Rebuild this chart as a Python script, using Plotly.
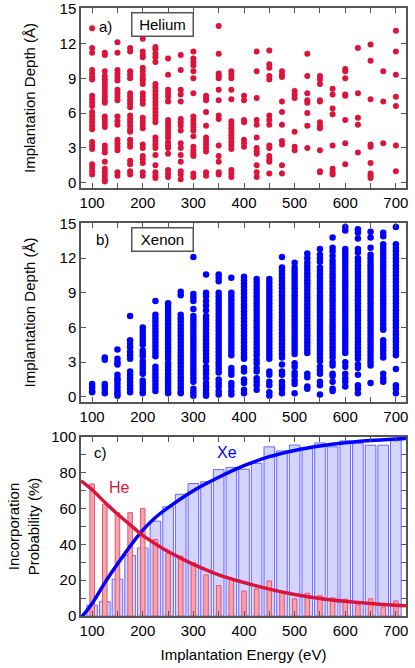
import plotly.graph_objects as go
from plotly.subplots import make_subplots

energies = [100, 125, 150, 175, 200, 225, 250, 275, 300, 325, 350, 375, 400,
            425, 450, 475, 500, 525, 550, 575, 600, 625, 650, 675, 700]

# panel a: helium implantation depths (A), one list per energy
he_depths = [
    [13.3, 11.6, 11.2, 9.7, 9.4, 9.1, 8.9, 7.5, 7.2, 6.9, 6.6, 6.1, 5.8, 5.5, 5.2, 4.9, 4.6, 3.5, 3.2, 2.9, 1.6, 1.3, 1.0, 0.7],
    [11.2, 11.0, 9.6, 9.2, 8.9, 8.6, 8.3, 8.0, 7.7, 7.4, 7.1, 6.9, 5.7, 5.4, 5.1, 4.8, 3.2, 2.9, 2.6, 1.8, 1.2, 0.9, 0.6, 0.3, 0.1],
    [12.1, 11.2, 9.7, 9.4, 9.1, 8.8, 8.0, 7.7, 7.4, 7.1, 5.7, 5.3, 5.0, 3.7, 3.4, 3.1, 2.8, 0.9, 0.6],
    [11.6, 11.3, 9.6, 9.3, 9.0, 7.7, 7.4, 7.1, 6.8, 6.5, 5.8, 5.5, 5.2, 4.9, 4.6, 4.4, 3.7, 3.4, 3.1, 1.9, 1.6, 1.0, 0.7],
    [12.4, 11.3, 11.0, 10.8, 9.9, 9.6, 9.3, 9.0, 8.8, 8.5, 7.7, 7.4, 7.1, 6.8, 5.6, 5.3, 5.0, 4.7, 3.3, 3.0, 2.3, 2.0, 1.7, 0.9, 0.6],
    [11.7, 11.5, 11.1, 10.8, 10.4, 8.5, 8.2, 7.9, 7.6, 7.3, 7.0, 6.7, 6.4, 6.1, 5.8, 5.5, 5.2, 3.9, 3.6, 3.3, 3.0, 2.4, 1.5, 0.9, 0.6, 0.4],
    [10.7, 9.3, 8.0, 7.7, 7.4, 7.0, 5.4, 5.1, 4.8, 4.5, 4.2, 3.9, 3.5, 3.2, 3.0, 2.5, 1.1, 0.8, 0.5],
    [11.0, 9.7, 8.0, 7.6, 7.0, 5.5, 5.2, 4.9, 4.5, 3.4, 3.0, 2.4, 1.8, 1.0, 0.7, 0.3],
    [11.3, 10.7, 10.4, 10.1, 9.6, 9.0, 7.7, 5.7, 5.4, 5.1, 4.8, 4.5, 4.0, 3.1, 2.8, 2.5, 2.3, 0.8, 0.5],
    [7.5, 7.3, 7.1, 6.1, 4.9, 3.9, 3.6, 3.3, 3.0, 2.7, 0.9, 0.6],
    [13.5, 11.1, 9.4, 9.2, 9.0, 8.0, 7.1, 5.8, 5.5, 3.2, 2.3, 1.8, 0.9, 0.7],
    [9.6, 9.3, 9.0, 8.0, 7.2, 5.3, 5.0, 4.7, 4.4, 4.1, 3.8, 3.5, 3.2, 2.9, 1.1, 0.8, 0.5],
    [7.5, 7.1, 5.4, 5.2, 3.7, 3.4, 3.1],
    [11.3, 9.6, 7.3, 5.4, 5.0, 3.9, 3.0, 2.7, 2.5, 1.5, 0.9, 0.5],
    [11.4, 10.2, 9.9, 9.2, 8.9, 5.8, 5.4, 5.0, 3.2, 3.0, 2.3, 2.0, 1.8, 0.8],
    [9.6, 9.3, 9.1, 7.0, 6.1, 5.0, 3.6, 3.3, 1.5, 0.8],
    [7.9, 7.6, 7.3, 4.4, 3.1, 2.8],
    [11.1, 9.2, 7.7, 7.1, 6.9, 6.0, 4.9, 3.0],
    [9.2, 8.9, 8.5, 7.1, 7.0, 5.2, 4.9, 4.7, 2.8, 1.0, 0.9],
    [8.1, 7.6, 6.4, 5.9, 3.2, 1.2, 0.9, 0.7],
    [9.8, 9.6, 9.0, 7.6, 7.5, 5.4, 3.4, 1.6],
    [11.6, 7.7, 5.6, 5.0, 2.6],
    [11.9, 10.5, 7.2, 3.3, 3.1, 1.7, 0.8, 0.6, 0.4],
    [9.6, 7.0, 3.4],
    [13.1, 11.3, 9.3, 7.4, 6.6, 3.2, 1.0],
]

# panel b: xenon implantation depths (A), one list per energy
xe_depths = [
    [1.1, 0.8, 0.5, 0.4],
    [3.4, 3.2, 1.1, 0.9, 0.6, 0.3],
    [4.1, 3.3, 3.0, 2.8, 1.9, 1.6, 1.4, 1.1, 0.8, 0.5, 0.3, 0.1],
    [7.0, 4.9, 4.6, 4.3, 3.9, 3.6, 3.3, 2.2, 1.9, 1.6, 1.3, 1.0, 0.7, 0.4],
    [6.0, 5.7, 5.4, 5.1, 4.8, 4.5, 4.0, 3.7, 3.5, 3.1, 2.8, 2.5, 2.2, 2.0, 1.4, 1.1, 0.8, 0.5, 0.3],
    [8.3, 7.1, 6.8, 6.5, 6.2, 5.9, 5.6, 5.3, 5.0, 4.7, 4.4, 4.1, 3.8, 3.5, 2.6, 2.3, 2.0, 1.7, 1.4, 1.1, 0.8, 0.5],
    [8.1, 7.8, 7.5, 7.2, 6.9, 6.6, 6.3, 6.0, 5.7, 5.4, 5.1, 4.8, 4.5, 4.2, 3.9, 3.6, 3.3, 2.9, 2.6, 2.3, 2.0,
     1.7, 1.4, 1.1, 0.8, 0.5, 0.3],
    [9.1, 8.8, 7.1, 6.8, 6.5, 6.2, 5.9, 5.6, 5.3, 5.0, 4.7, 4.4, 4.1, 3.8, 3.5, 3.2, 2.9, 2.6, 2.3, 2.0, 1.7,
     1.4, 1.1, 0.8, 0.5, 0.3],
    [12.1, 8.9, 8.6, 8.3, 7.6, 7.0, 6.7, 6.4, 6.1, 5.8, 5.5, 5.2, 4.9, 4.6, 4.3, 4.0, 3.7, 3.4, 3.1, 2.8, 2.5,
     2.2, 1.9, 1.6, 1.3, 0.7, 0.4, 0.1],
    [10.6, 9.0, 8.7, 8.3, 7.9, 7.5, 7.0, 6.7, 6.4, 6.1, 5.8, 5.5, 5.2, 4.9, 4.6, 4.3, 4.0, 3.7, 3.4, 3.1, 2.6,
     2.3, 2.0, 1.6, 1.2, 0.9, 0.6, 0.3, 0.1],
    [10.6, 10.3, 10.0, 9.0, 8.7, 8.4, 8.1, 7.8, 7.5, 7.2, 6.9, 6.6, 6.3, 6.0, 5.7, 5.4, 5.1, 4.8, 4.5, 4.2, 3.9,
     3.6, 3.3, 3.0, 2.7, 2.4, 2.1, 1.5, 1.2, 0.9, 0.5, 0.2],
    [10.3, 9.0, 8.7, 8.4, 8.1, 7.8, 7.5, 7.2, 6.9, 6.6, 6.3, 6.0, 5.7, 5.4, 5.1, 4.8, 4.5, 4.2, 3.9, 3.6, 2.5,
     2.2, 1.9, 1.2, 0.9, 0.5, 0.2],
    [10.4, 10.1, 9.8, 9.5, 9.2, 8.9, 8.6, 8.3, 8.0, 7.7, 7.4, 7.1, 6.8, 6.5, 6.2, 5.9, 5.6, 5.3, 5.0, 4.7, 4.4,
     4.1, 3.8, 3.5, 3.3, 2.5, 2.2, 1.5, 1.2, 0.6, 0.3],
    [10.2, 9.9, 9.6, 9.3, 9.0, 8.7, 8.4, 8.1, 7.8, 7.5, 7.2, 6.9, 6.6, 6.3, 6.0, 5.7, 5.4, 5.1, 4.8, 4.5, 4.2,
     3.9, 3.6, 3.2, 2.9, 2.5, 2.2, 1.6, 1.3, 1.0, 0.6],
    [10.2, 9.9, 9.6, 9.3, 9.0, 8.7, 8.4, 8.1, 7.8, 7.5, 7.2, 6.9, 6.6, 6.3, 6.0, 5.7, 5.4, 5.1, 4.8, 4.5, 4.2,
     3.9, 3.6, 3.3, 2.2, 1.9, 1.3, 1.0, 0.4, 0.1],
    [12.1, 11.2, 10.9, 10.6, 10.3, 10.0, 9.7, 9.4, 9.1, 8.8, 8.5, 8.2, 7.9, 7.6, 7.3, 7.0, 6.7, 6.4, 6.1, 5.8,
     5.5, 5.2, 4.9, 4.6, 4.3, 4.0, 3.7, 3.4, 2.8, 2.2, 1.9, 1.3, 1.0, 0.7, 0.3],
    [11.6, 11.2, 10.9, 10.6, 10.3, 10.0, 9.7, 9.4, 9.1, 8.8, 8.5, 8.2, 7.9, 7.6, 7.3, 7.0, 6.7, 6.4, 6.1, 5.8,
     5.5, 5.2, 4.9, 4.6, 4.3, 4.0, 3.7, 2.9, 2.6, 2.1, 1.8, 1.4, 1.1, 0.3],
    [12.4, 12.0, 11.6, 11.3, 11.0, 10.7, 10.4, 10.1, 9.8, 9.5, 9.2, 8.9, 8.6, 8.3, 8.0, 7.7, 7.4, 7.1, 6.8, 6.5,
     6.2, 5.9, 5.6, 5.3, 5.0, 4.7, 4.4, 4.1, 3.8, 2.0, 1.7, 0.9, 0.7],
    [12.8, 12.3, 12.0, 11.7, 11.2, 10.9, 10.6, 10.3, 10.0, 9.7, 9.4, 9.1, 8.8, 8.5, 8.2, 7.9, 7.6, 7.3, 7.0, 6.7,
     6.4, 6.1, 5.8, 5.5, 5.2, 4.9, 4.6, 4.3, 4.0, 3.7, 3.4, 3.1, 2.6, 2.3, 2.0, 1.3, 1.0, 0.2],
    [13.8, 12.9, 12.6, 12.2, 11.8, 11.5, 11.2, 10.9, 10.6, 10.3, 10.0, 9.7, 9.4, 9.1, 8.8, 8.5, 8.2, 7.9, 7.6,
     7.3, 7.0, 6.7, 6.4, 6.1, 5.8, 5.5, 5.2, 4.9, 4.6, 4.3, 4.0, 3.7, 3.4, 3.0, 2.7, 2.0, 1.8, 1.3, 0.7, 0.5],
    [14.7, 14.4, 12.8, 12.5, 12.2, 11.9, 11.6, 11.3, 11.0, 10.7, 10.4, 10.1, 9.8, 9.5, 9.2, 8.9, 8.6, 8.3, 8.0,
     7.7, 7.4, 7.1, 6.8, 6.5, 6.2, 5.9, 5.6, 5.3, 5.0, 4.7, 4.4, 4.1, 3.8, 3.0, 2.6, 2.0, 1.6, 1.3, 0.9],
    [14.5, 14.2, 13.7, 12.8, 12.5, 12.0, 11.7, 11.4, 11.1, 10.8, 10.5, 10.2, 9.9, 9.6, 9.3, 9.0, 8.7, 8.4, 8.1,
     7.8, 7.5, 7.2, 6.9, 6.6, 6.3, 6.0, 5.7, 5.4, 5.1, 4.8, 4.5, 4.2, 3.9, 3.6, 3.3, 2.8, 2.5, 1.9, 1.0, 0.7, 0.3],
    [14.3, 13.8, 12.9, 12.3, 12.0, 11.7, 11.4, 11.1, 10.8, 10.5, 10.2, 9.9, 9.6, 9.3, 9.0, 8.7, 8.4, 8.1, 7.8,
     7.5, 7.2, 6.9, 6.6, 6.3, 6.0, 5.7, 5.4, 5.1, 4.8, 4.5, 4.2, 3.9, 3.6, 3.3, 3.0, 2.7, 1.2],
    [14.2, 13.9, 13.2, 12.9, 12.6, 12.3, 12.0, 11.7, 11.4, 11.1, 10.8, 10.5, 10.2, 9.9, 9.6, 9.3, 9.0, 8.7, 8.4,
     8.1, 7.8, 7.5, 7.2, 6.9, 6.6, 6.3, 6.0, 5.8, 4.9, 4.6, 4.3, 4.0, 3.7, 3.4, 2.0, 1.6, 1.3],
    [14.7, 13.2, 12.9, 12.6, 12.3, 12.0, 11.7, 11.4, 11.1, 10.8, 10.5, 10.2, 9.9, 9.6, 9.3, 9.0, 8.7, 8.4, 8.1,
     7.8, 7.5, 7.2, 6.9, 6.6, 6.3, 6.0, 5.7, 5.4, 5.1, 4.8, 4.5, 4.2, 3.9, 3.6, 2.4, 1.0, 0.7, 0.3],
]

# panel c: incorporation probability (%)
xe_prob = [6, 8, 20.6, 33.8, 38, 53, 61, 68, 74, 75, 81.8, 83, 82, 85.3, 94.5, 92.2, 95.5, 93.8,
           96.7, 94.5, 97.8, 96.5, 95.4, 95.4, 98]
he_prob = [73.8, 62.4, 57.7, 57.7, 60, 42.7, 35, 33.5, 29.8, 23, 17, 20.5, 13.9, 15.1, 19.6, 13.4,
           9.6, 12.7, 11.4, 10.2, 9.4, 6.2, 9.6, 5, 8.4]

# fitted curves
fit_energy = [78, 100, 125, 150, 175, 200, 225, 250, 300, 350, 400, 450, 500, 550, 600, 650, 700, 720]
xe_fit = [-1, 7, 18.5, 29, 39, 48, 55, 60.5, 70, 77.5, 84, 89, 92.5, 95, 96.8, 98, 98.9, 99.2]
he_fit = [75.5, 70.5, 63.5, 57, 51, 45, 40.3, 36, 28.8, 23, 18.7, 15, 12, 9.8, 8.2, 7, 6, 5.7]

RED = "#DC143C"
BLUE = "#0000FF"
FONT = "Liberation Sans, Arial, sans-serif"
FS = 15

fig = make_subplots(rows=3, cols=1)

he_x = [e for e, col in zip(energies, he_depths) for _ in col]
he_y = [d for col in he_depths for d in col]
xe_x = [e for e, col in zip(energies, xe_depths) for _ in col]
xe_y = [d for col in xe_depths for d in col]

fig.add_trace(go.Scatter(x=he_x, y=he_y, mode="markers",
                         marker=dict(color=RED, size=6)), row=1, col=1)
fig.add_trace(go.Scatter(x=xe_x, y=xe_y, mode="markers",
                         marker=dict(color=BLUE, size=6.5)), row=2, col=1)

# draw order as in the original: Xe bars, Xe fit, He bars, He fit
fig.add_trace(go.Bar(x=energies, y=xe_prob, width=21,
                     marker=dict(color="rgba(170,170,255,0.5)",
                                 line=dict(color="rgba(90,90,255,0.9)", width=1))), row=3, col=1)
fig.add_trace(go.Scatter(x=fit_energy, y=xe_fit, mode="lines", line_shape="spline",
                         line=dict(color=BLUE, width=3.5)), row=3, col=1)
fig.add_trace(go.Bar(x=energies, y=he_prob, width=9,
                     marker=dict(color="#F4A4AE", line=dict(color="#E4566E", width=1))), row=3, col=1)
fig.add_trace(go.Scatter(x=fit_energy, y=he_fit, mode="lines", line_shape="spline",
                         line=dict(color=RED, width=3.5)), row=3, col=1)

axis_style = dict(showline=True, mirror="ticks", linecolor="#555555", linewidth=1.5,
                  ticks="inside", ticklen=5, tickcolor="#555555", tickwidth=1,
                  showgrid=False, zeroline=False, automargin=False,
                  ticklabeloverflow="allow",
                  tickfont=dict(family=FONT, size=FS, color="black"))

for i, dom in zip([1, 2, 3], [[0.704, 1.0], [0.352, 0.6464], [0.0, 0.2944]]):
    fig.update_xaxes(range=[78, 720], tickvals=[100, 200, 300, 400, 500, 600, 700],
                     minor=dict(tickvals=[150, 250, 350, 450, 550, 650], ticks="inside",
                                ticklen=5, tickcolor="#555555"),
                     domain=[0, 1], row=i, col=1, **axis_style)
    fig.update_yaxes(domain=dom, row=i, col=1, **axis_style)

for i in [1, 2]:
    fig.update_yaxes(range=[-0.45, 15.05], dtick=3, tick0=0, row=i, col=1,
                     title=dict(text="Implantation Depth (Å)", standoff=20,
                                font=dict(family=FONT, size=FS, color="black")))
fig.update_yaxes(range=[0, 100], dtick=20,
                 minor=dict(dtick=10, ticks="inside", ticklen=5, tickcolor="#555555"),
                 title=dict(text="Incorporation<br>Probability (%)", standoff=8,
                            font=dict(family=FONT, size=FS, color="black")), row=3, col=1)
fig.update_xaxes(title=dict(text="Implantation Energy (eV)", standoff=12,
                            font=dict(family=FONT, size=FS, color="black")), row=3, col=1)

lab = dict(family=FONT, size=FS, color="black")
box = dict(showarrow=False, font=lab, bordercolor="#555555", borderwidth=1.5,
           borderpad=3, width=54, height=16)
fig.add_annotation(x=126, y=13.5, xref="x", yref="y", text="a)", showarrow=False, font=lab)
fig.add_annotation(x=238, y=13.6, xref="x", yref="y", text="Helium", **box)
fig.add_annotation(x=120, y=13.6, xref="x2", yref="y2", text="b)", showarrow=False, font=lab)
fig.add_annotation(x=238, y=13.66, xref="x2", yref="y2", text="Xenon", **box)
fig.add_annotation(x=116, y=91.6, xref="x3", yref="y3", text="c)", showarrow=False, font=lab)
fig.add_annotation(x=366, y=91.6, xref="x3", yref="y3", text="Xe", showarrow=False,
                   font=dict(family=FONT, size=16, color=BLUE))
fig.add_annotation(x=155, y=72, xref="x3", yref="y3", text="He", showarrow=False,
                   font=dict(family=FONT, size=16, color=RED))

fig.update_layout(width=415, height=668, margin=dict(l=81, r=9, t=8, b=52),
                  barmode="overlay", showlegend=False,
                  plot_bgcolor="white", paper_bgcolor="white")

# page has the default 8px body margin; drop it so the figure fills the window
fig.write_html("out.html", config={"displayModeBar": False},
               post_script="document.body.style.margin='0';document.body.style.overflow='hidden';")
